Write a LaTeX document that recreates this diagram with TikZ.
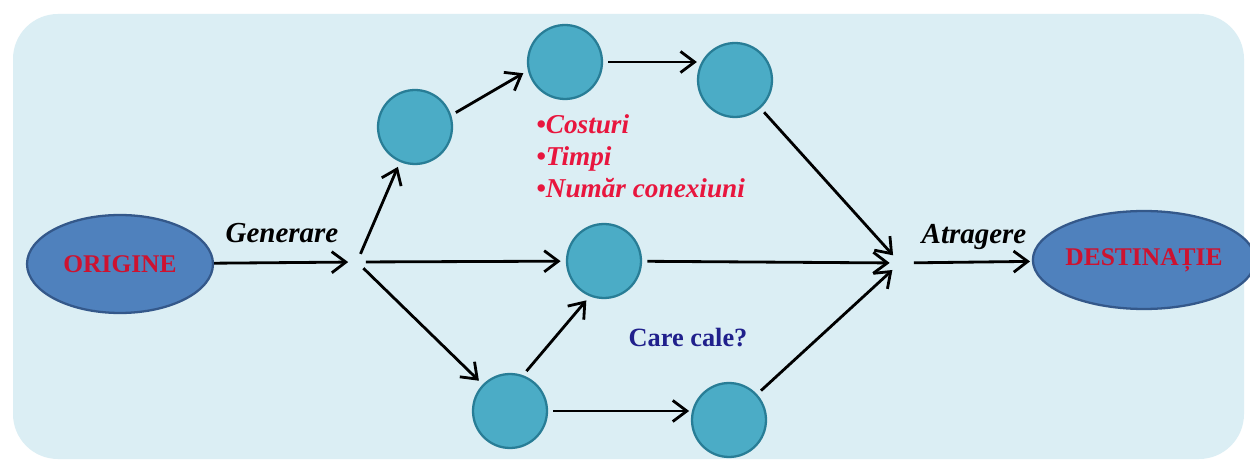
\documentclass[tikz,border=0pt]{standalone}
\usepackage{fontspec}
\setmainfont{Liberation Serif}
\usetikzlibrary{arrows.meta,shapes.geometric}
\definecolor{bgblue}{RGB}{219,238,244}
\definecolor{ellfill}{RGB}{79,129,189}
\definecolor{elldraw}{RGB}{52,88,138}
\definecolor{circfill}{RGB}{75,172,198}
\definecolor{circdraw}{RGB}{40,125,150}
\definecolor{redtxt}{RGB}{232,22,62}
\definecolor{darkred}{RGB}{205,18,48}
\definecolor{navytxt}{RGB}{32,32,140}
\tikzset{
  endpoint/.style={ellipse,draw=elldraw,line width=1.3pt,fill=ellfill,minimum width=3.72cm,minimum height=1.96cm,inner sep=0pt,text=darkred,font=\fontsize{14.5}{16}\selectfont\bfseries},
  stop/.style={circle,draw=circdraw,line width=1.3pt,fill=circfill,minimum size=1.48cm,inner sep=0pt},
  junction/.style={circle,minimum size=0.34cm,inner sep=0pt},
  conn/.style={line width=1.6pt,-{Straight Barb[length=8pt,width=12pt,line width=1.6pt]}},
  italab/.style={font=\fontsize{16.5}{18}\selectfont\bfseries\itshape,text=black,inner sep=0pt},
  crit/.style={font=\fontsize{15.5}{18}\selectfont\bfseries\itshape,text=redtxt,anchor=base west,inner sep=0pt},
}
\begin{document}
\begin{tikzpicture}[x=0.02cm,y=-0.02cm]
\useasboundingbox (0,0) rectangle (1250,462);
\fill[white] (0,0) rectangle (1250,462);
\fill[bgblue,rounded corners=0.9cm] (13,14) rectangle (1244,459);

\node[endpoint] (O) at (120,264) {ORIGINE};
\node[endpoint] (D) at (1144,260) {DESTINAȚIE};

\node[junction] (J1) at (357,262) {};
\node[junction,minimum size=0.4cm] (J2) at (900,263) {};

\node[stop] (C1) at (415,127) {};
\node[stop] (C2) at (565,62) {};
\node[stop] (C3) at (735,80) {};
\node[stop] (C4) at (604,261) {};
\node[stop] (C5) at (510,411) {};
\node[stop] (C6) at (729,420) {};

\draw[conn] (O) -- (J1);
\draw[conn,shorten >=3pt] (J1) -- (C1);
\draw[conn,shorten >=3pt] (J1) -- (C4);
\draw[conn,shorten >=3pt] (J1) -- (C5);
\draw[conn,shorten <=3pt,shorten >=3pt] (C1.18) -- (C2.193);
\draw[conn,shorten <=3pt] (C2.east) -- (C2.east -| C3.west);
\draw[conn,shorten <=3pt] (C3) -- (J2);
\draw[conn,shorten <=3pt] (C4) -- (J2);
\draw[conn,shorten <=3pt] (C6) -- (J2);
\draw[conn,shorten <=3pt,shorten >=3pt] (C5.70) -- (C4.-112);
\draw[conn,shorten <=3pt,shorten >=1pt] (C5.east) -- (C5.east -| C6.west);
\draw[conn,shorten <=2pt,shorten >=1pt] (J2) -- (D);

\node[italab] (gen) at (282,233) {Generare};
\node[italab] (atr) at (974,237) {Atragere};

\node[crit] (cost) at (536,134) {•Costuri};
\node[crit] (timp) at (536,166) {•Timpi};
\node[crit] (nr) at (536,198) {•Număr conexiuni};

\node[font=\fontsize{15}{18}\selectfont\bfseries,text=navytxt,inner sep=0pt] (care) at (688,338) {Care cale?};
\end{tikzpicture}
\end{document}
